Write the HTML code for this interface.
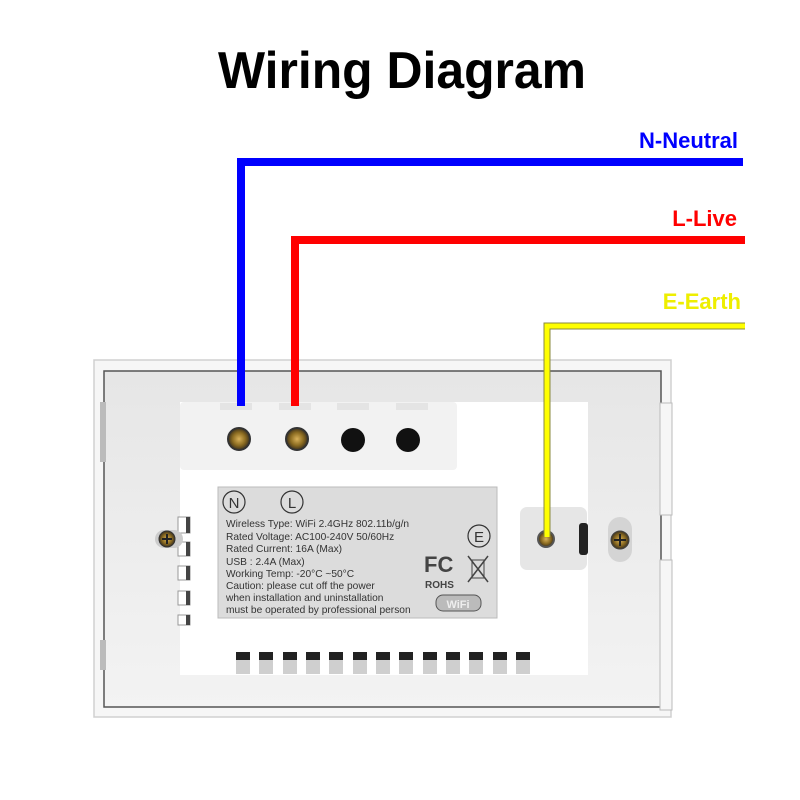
<!DOCTYPE html>
<html><head><meta charset="utf-8"><style>
html,body{margin:0;padding:0;background:#fff;}
svg{display:block;}
</style></head><body>
<svg width="800" height="800" viewBox="0 0 800 800" xmlns="http://www.w3.org/2000/svg" font-family="Liberation Sans, sans-serif">
<defs>
<linearGradient id="fr" x1="0" y1="0" x2="0" y2="1"><stop offset="0" stop-color="#e6e6e6"/><stop offset="1" stop-color="#f3f3f3"/></linearGradient>
<radialGradient id="brass"><stop offset="0" stop-color="#d9b25a"/><stop offset="0.6" stop-color="#8a6a20"/><stop offset="1" stop-color="#3a3020"/></radialGradient>
</defs>
<text x="402" y="88" font-size="52" font-weight="bold" text-anchor="middle" textLength="368" lengthAdjust="spacingAndGlyphs">Wiring Diagram</text>
<text x="738" y="148" font-size="22" font-weight="bold" fill="#0000ff" text-anchor="end">N-Neutral</text>
<text x="737" y="226" font-size="22" font-weight="bold" fill="#ff0000" text-anchor="end">L-Live</text>
<text x="741" y="309" font-size="22" font-weight="bold" fill="#eeee00" text-anchor="end">E-Earth</text>

<rect x="94" y="360" width="577" height="357" fill="#f6f6f6" stroke="#d0d0d0" stroke-width="1.5"/>
<rect x="104" y="371" width="557" height="336" fill="url(#fr)" stroke="#555" stroke-width="1.5"/>
<rect x="660" y="403" width="12" height="112" fill="#f6f6f6" stroke="#bbb"/>
<rect x="660" y="560" width="12" height="150" fill="#f6f6f6" stroke="#bbb"/>
<rect x="100" y="402" width="6" height="60" fill="#bbb"/>
<rect x="100" y="640" width="6" height="30" fill="#bbb"/>
<rect x="180" y="402" width="408" height="273" fill="#fff"/>
<rect x="180" y="402" width="277" height="68" rx="4" fill="#f2f2f2"/>
<g fill="#e4e4e4"><rect x="220" y="403" width="32" height="7"/><rect x="279" y="403" width="32" height="7"/><rect x="337" y="403" width="32" height="7"/><rect x="396" y="403" width="32" height="7"/></g>
<circle cx="239" cy="439" r="11" fill="url(#brass)" stroke="#333" stroke-width="2"/>
<circle cx="297" cy="439" r="11" fill="url(#brass)" stroke="#333" stroke-width="2"/>
<circle cx="353" cy="440" r="12" fill="#111"/>
<circle cx="408" cy="440" r="12" fill="#111"/>
<g fill="#fff" stroke="#999"><rect x="178" y="517" width="12" height="16"/><rect x="178" y="542" width="12" height="14"/><rect x="178" y="566" width="12" height="14"/><rect x="178" y="591" width="12" height="14"/><rect x="178" y="615" width="12" height="10"/></g>
<g fill="#444"><rect x="186" y="517" width="4" height="16"/><rect x="186" y="542" width="4" height="14"/><rect x="186" y="566" width="4" height="14"/><rect x="186" y="591" width="4" height="14"/><rect x="186" y="615" width="4" height="10"/></g>
<rect x="155" y="530" width="28" height="18" rx="9" fill="#ccc"/>
<circle cx="167" cy="539" r="8" fill="url(#brass)" stroke="#333"/>
<path d="M162 539h10M167 534v10" stroke="#222" stroke-width="2"/>
<rect x="218" y="487" width="279" height="131" fill="#dcdcdc" stroke="#bbb"/>
<g fill="none" stroke="#333" stroke-width="1.2"><circle cx="234" cy="502" r="11"/><circle cx="292" cy="502" r="11"/><circle cx="479" cy="536" r="11"/></g>
<text x="234" y="508" font-size="15" text-anchor="middle" fill="#333">N</text>
<text x="292" y="508" font-size="15" text-anchor="middle" fill="#333">L</text>
<text x="479" y="542" font-size="15" text-anchor="middle" fill="#333">E</text>
<g font-size="10.2" fill="#333">
<text x="226" y="527">Wireless Type: WiFi 2.4GHz 802.11b/g/n</text>
<text x="226" y="540">Rated Voltage: AC100-240V 50/60Hz</text>
<text x="226" y="552">Rated Current: 16A (Max)</text>
<text x="226" y="565">USB : 2.4A (Max)</text>
<text x="226" y="577">Working Temp: -20°C ~50°C</text>
<text x="226" y="589">Caution: please cut off the power</text>
<text x="226" y="601">when installation and uninstallation</text>
<text x="226" y="613">must be operated by professional person</text>
</g>
<text x="424" y="572" font-size="22" font-weight="bold" fill="#444">FC</text>
<text x="425" y="588" font-size="10" font-weight="bold" fill="#444">ROHS</text>
<path d="M468 556l20 26M488 556l-20 26" stroke="#444" stroke-width="1.5"/>
<rect x="472" y="560" width="12" height="18" fill="none" stroke="#444"/>
<rect x="436" y="595" width="45" height="16" rx="7" fill="#bbb" stroke="#555"/>
<text x="458" y="608" font-size="11" font-weight="bold" text-anchor="middle" fill="#eee">WiFi</text>
<rect x="520" y="507" width="67" height="63" rx="7" fill="#e6e6e6"/>
<circle cx="546" cy="539" r="8" fill="url(#brass)" stroke="#555" stroke-width="2"/>
<rect x="579" y="523" width="9" height="32" rx="3" fill="#222"/>
<rect x="608" y="517" width="24" height="45" rx="12" fill="#d4d4d4"/>
<circle cx="620" cy="540" r="9" fill="url(#brass)" stroke="#444"/>
<path d="M614 540h12M620 534v12" stroke="#222" stroke-width="2"/>
<g fill="#222">
<rect x="236" y="652" width="14" height="16"/><rect x="259" y="652" width="14" height="16"/><rect x="283" y="652" width="14" height="16"/><rect x="306" y="652" width="14" height="16"/><rect x="329" y="652" width="14" height="16"/><rect x="353" y="652" width="14" height="16"/><rect x="376" y="652" width="14" height="16"/><rect x="399" y="652" width="14" height="16"/><rect x="423" y="652" width="14" height="16"/><rect x="446" y="652" width="14" height="16"/><rect x="469" y="652" width="14" height="16"/><rect x="493" y="652" width="14" height="16"/><rect x="516" y="652" width="14" height="16"/>
</g>
<g fill="#cfcfcf"><rect x="236" y="660" width="14" height="14"/><rect x="259" y="660" width="14" height="14"/><rect x="283" y="660" width="14" height="14"/><rect x="306" y="660" width="14" height="14"/><rect x="329" y="660" width="14" height="14"/><rect x="353" y="660" width="14" height="14"/><rect x="376" y="660" width="14" height="14"/><rect x="399" y="660" width="14" height="14"/><rect x="423" y="660" width="14" height="14"/><rect x="446" y="660" width="14" height="14"/><rect x="469" y="660" width="14" height="14"/><rect x="493" y="660" width="14" height="14"/><rect x="516" y="660" width="14" height="14"/></g>

<path d="M241 406V162H743" fill="none" stroke="#0000ff" stroke-width="8"/>
<path d="M295 406V240H745" fill="none" stroke="#ff0000" stroke-width="8"/>
<path d="M547 537V326H745" fill="none" stroke="#8a8a40" stroke-width="7"/>
<path d="M547 537V326H745" fill="none" stroke="#ffff00" stroke-width="5"/>
</svg>
</body></html>
